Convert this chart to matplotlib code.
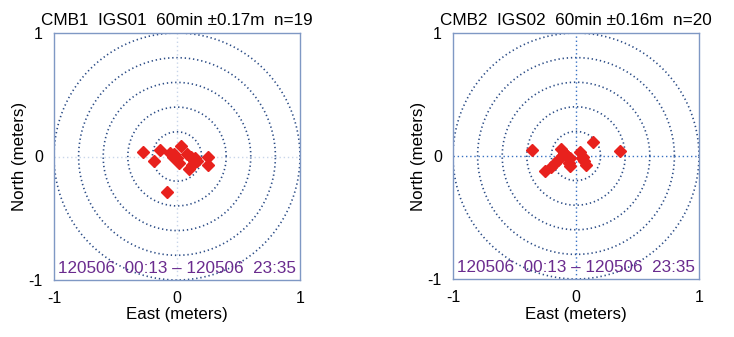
import numpy as np
import matplotlib.pyplot as plt

plt.rcParams['font.family'] = ['Liberation Sans', 'DejaVu Sans']
plt.rcParams['axes.unicode_minus'] = False

# Station offsets (meters), east / north
cmb1_east = [-0.28, -0.19, -0.14, -0.06, -0.03, 0.00, 0.03, 0.02, 0.08, 0.11,
             0.15, 0.165, 0.12, 0.10, 0.255, 0.255, -0.085, -0.025, 0.14]
cmb1_north = [0.04, -0.04, 0.05, 0.03, 0.00, -0.01, 0.085, -0.055, 0.02, 0.00,
              -0.01, -0.04, -0.07, -0.10, 0.00, -0.065, -0.29, 0.02, -0.04]

cmb2_east = [-0.36, -0.125, -0.10, -0.075, -0.05, -0.05, -0.145, -0.17, -0.20, -0.25,
             0.03, 0.045, 0.065, 0.08, 0.14, 0.36, -0.085, -0.11, 0.06, -0.06]
cmb2_north = [0.045, 0.06, 0.025, 0.00, -0.02, -0.08, -0.03, -0.055, -0.09, -0.12,
              0.03, -0.015, -0.04, -0.07, 0.115, 0.04, 0.01, 0.00, -0.005, -0.06]

titles = ['CMB1  IGS01  60min \u00b10.17m  n=19',
          'CMB2  IGS02  60min \u00b10.16m  n=20']
period = '120506  00:13 \u2013 120506  23:35'
ring_radii = [0.2, 0.4, 0.6, 0.8, 1.0]
ticks = [-1, 0, 1]

fig = plt.figure(figsize=(7.34, 3.37), dpi=100)
ax1 = fig.add_axes([54 / 734, 57 / 337, 246 / 734, 247 / 337])
ax2 = fig.add_axes([453 / 734, 58 / 337, 246 / 734, 246 / 337])

panels = [(ax1, cmb1_east, cmb1_north, titles[0], '#c9d6ea'),
          (ax2, cmb2_east, cmb2_north, titles[1], '#3a72c4')]

theta = np.linspace(0, 2 * np.pi, 400)
for ax, east, north, title, cross_color in panels:
    # range rings
    for r in ring_radii:
        ax.plot(r * np.cos(theta), r * np.sin(theta), color='#2b4c86',
                lw=1.2, linestyle=(0, (0.8, 1.7)), zorder=1)
    ax.axhline(0, color=cross_color, lw=1.0, linestyle=(0, (1, 2)), zorder=1)
    ax.axvline(0, color=cross_color, lw=1.0, linestyle=(0, (1, 2)), zorder=1)

    ax.plot(east, north, 'D', color='#e8211d', ms=6.3, mec='#e8211d', zorder=3)

    ax.set_xlim(-1, 1)
    ax.set_ylim(-1, 1)
    ax.set_xticks(ticks)
    ax.set_yticks(ticks)
    ax.tick_params(length=0, labelsize=11.5, pad=8)
    for s in ax.spines.values():
        s.set_color('#7f98c4')
        s.set_linewidth(1.0)
    ax.set_title(title, fontsize=12.3, pad=6)
    ax.set_xlabel('East (meters)', fontsize=12.2, labelpad=1)
    ax.set_ylabel('North (meters)', fontsize=12.2, labelpad=1)
    ax.text(0.5, 0.015, period, transform=ax.transAxes, ha='center', va='bottom',
            fontsize=12.3, color='#6a2b8e')

fig.savefig('out.png', dpi=100)
